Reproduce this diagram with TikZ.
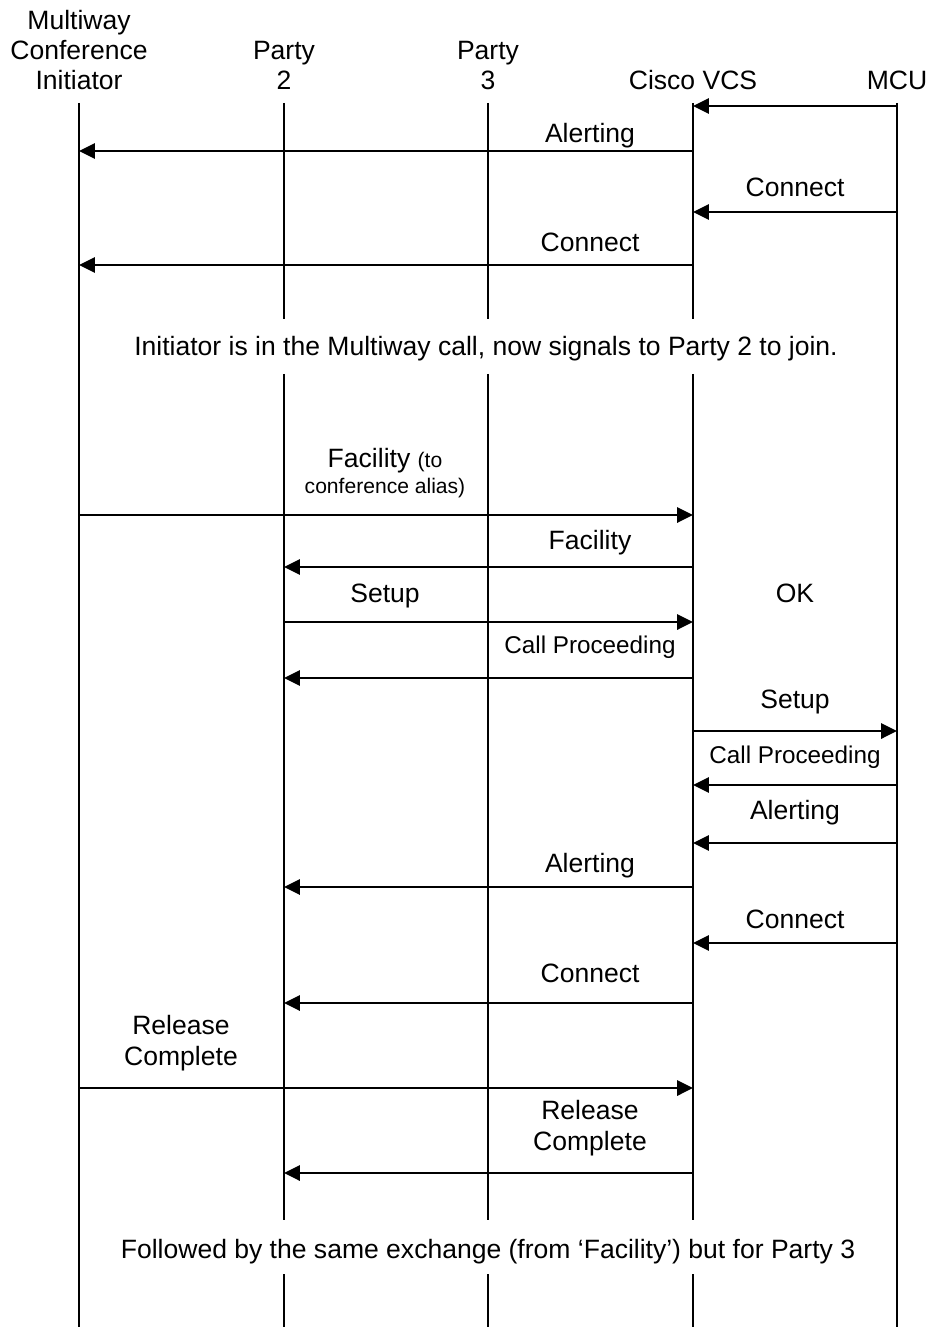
\documentclass[tikz,border=0pt]{standalone}
\usepackage{fontspec}
\setmainfont{Liberation Sans}
\usetikzlibrary{arrows.meta}

\tikzset{
  lifeline/.style={line width=1pt},
  msg/.style={line width=1.4pt,-{Triangle[length=9pt,width=8.6pt]}},
  lbl/.style={anchor=base,inner sep=0pt,align=center,font=\fontsize{15.1}{17.3}\selectfont},
  cplbl/.style={lbl,font=\fontsize{13.8}{16}\selectfont},
}

\begin{document}
\begin{tikzpicture}[x=0.02cm,y=-0.02cm]
  \useasboundingbox (0,0) rectangle (931,1327);
  % headings (base = last line)
  \node[lbl] (iniT) at (79,90) {Multiway\\Conference\\Initiator};
  \node[lbl] (p2T) at (284,90) {Party\\2};
  \node[lbl] (p3T) at (488,90) {Party\\3};
  \node[lbl] (vcsT) at (693,90) {Cisco VCS};
  \node[lbl] (mcuT) at (897,90) {MCU};
  % lifelines
  \coordinate (ini) at (79,103);
  \coordinate (p2) at (284,103);
  \coordinate (p3) at (488,103);
  \coordinate (vcs) at (693,103);
  \coordinate (mcu) at (897,103);
  \coordinate (g1) at (0,319);
  \coordinate (g2) at (0,374);
  \coordinate (g3) at (0,1220);
  \coordinate (g4) at (0,1274);
  \coordinate (bot) at (0,1327);
  \draw[lifeline] (ini) -- (ini |- bot);
  \draw[lifeline] (mcu) -- (mcu |- bot);
  \draw[lifeline] (p2) -- (p2 |- g1) (p2 |- g2) -- (p2 |- g3) (p2 |- g4) -- (p2 |- bot);
  \draw[lifeline] (p3) -- (p3 |- g1) (p3 |- g2) -- (p3 |- g3) (p3 |- g4) -- (p3 |- bot);
  \draw[lifeline] (vcs) -- (vcs |- g1) (vcs |- g2) -- (vcs |- g3) (vcs |- g4) -- (vcs |- bot);
  % message rows
  \coordinate (m1) at (0,106);
  \coordinate (m2) at (0,151);
  \coordinate (m3) at (0,212);
  \coordinate (m4) at (0,265);
  \coordinate (m5) at (0,515);
  \coordinate (m6) at (0,567);
  \coordinate (m7) at (0,622);
  \coordinate (m8) at (0,678);
  \coordinate (m9) at (0,731);
  \coordinate (m10) at (0,785);
  \coordinate (m11) at (0,843);
  \coordinate (m12) at (0,887);
  \coordinate (m13) at (0,943);
  \coordinate (m14) at (0,1003);
  \coordinate (m15) at (0,1088);
  \coordinate (m16) at (0,1173);
  % first call
  \draw[msg] (mcu |- m1) -- (vcs |- m1);
  \draw[msg] (vcs |- m2) -- (ini |- m2);
  \node[lbl] (alert1) at (590,143) {Alerting};
  \draw[msg] (mcu |- m3) -- (vcs |- m3);
  \node[lbl] (conn1) at (795,197) {Connect};
  \draw[msg] (vcs |- m4) -- (ini |- m4);
  \node[lbl] (conn2) at (590,252) {Connect};
  \node[lbl] (note1) at (486,356) {Initiator is in the Multiway call, now signals to Party 2 to join.};
  % party 2 joins
  \draw[msg] (ini |- m5) -- (vcs |- m5);
  \node[lbl,font=\fontsize{15.1}{14.4}\selectfont] (fac1) at (385,493)
    {Facility {\fontsize{12}{14}\selectfont(to}\\{\fontsize{12}{14}\selectfont conference alias)}};
  \draw[msg] (vcs |- m6) -- (p2 |- m6);
  \node[lbl] (fac2) at (590,549) {Facility};
  \draw[msg] (p2 |- m7) -- (vcs |- m7);
  \node[lbl] (setup1) at (385,602) {Setup};
  \node[lbl] (ok) at (795,602) {OK};
  \draw[msg] (vcs |- m8) -- (p2 |- m8);
  \node[cplbl] (proc1) at (590,653) {Call Proceeding};
  \draw[msg] (vcs |- m9) -- (mcu |- m9);
  \node[lbl] (setup2) at (795,708) {Setup};
  \draw[msg] (mcu |- m10) -- (vcs |- m10);
  \node[cplbl] (proc2) at (795,763) {Call Proceeding};
  \draw[msg] (mcu |- m11) -- (vcs |- m11);
  \node[lbl] (alert2) at (795,819) {Alerting};
  \draw[msg] (vcs |- m12) -- (p2 |- m12);
  \node[lbl] (alert3) at (590,872) {Alerting};
  \draw[msg] (mcu |- m13) -- (vcs |- m13);
  \node[lbl] (conn3) at (795,928) {Connect};
  \draw[msg] (vcs |- m14) -- (p2 |- m14);
  \node[lbl] (conn4) at (590,982) {Connect};
  \draw[msg] (ini |- m15) -- (vcs |- m15);
  \node[lbl] (rel1) at (181,1065) {Release\\Complete};
  \draw[msg] (vcs |- m16) -- (p2 |- m16);
  \node[lbl] (rel2) at (590,1150) {Release\\Complete};
  \node[lbl] (note2) at (488,1258) {Followed by the same exchange (from ‘Facility’) but for Party 3};
\end{tikzpicture}
\end{document}
